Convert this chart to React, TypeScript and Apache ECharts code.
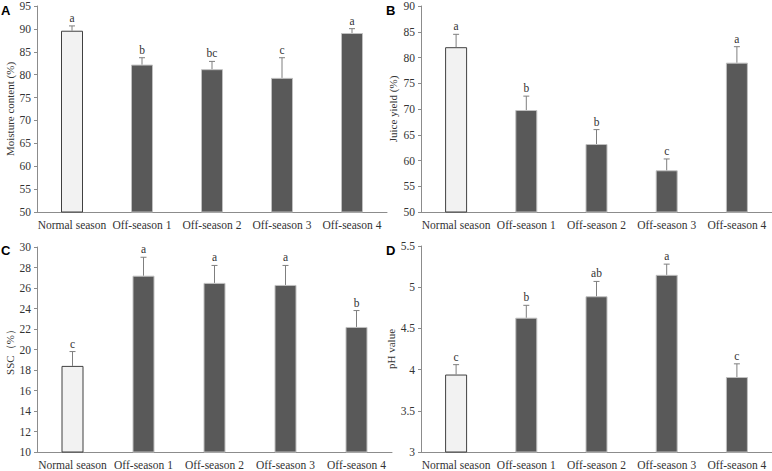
import * as echarts from "echarts";
import { useEffect, useRef } from "react";

const categories = ["Normal season", "Off-season 1", "Off-season 2", "Off-season 3", "Off-season 4"];

const moisture = [89.6, 82.2, 81.2, 79.3, 89.1];
const moistureErr = [1.05, 1.5, 1.7, 4.4, 0.95];
const moistureSig = ["a", "b", "bc", "c", "a"];

const juice = [82.0, 69.8, 63.2, 58.1, 79.0];
const juiceErr = [2.5, 2.7, 2.8, 2.2, 3.1];
const juiceSig = ["a", "b", "b", "c", "a"];

const ssc = [18.4, 27.2, 26.5, 26.3, 22.2];
const sscErr = [1.4, 1.8, 1.7, 1.9, 1.6];
const sscSig = ["c", "a", "a", "a", "b"];

const ph = [3.94, 4.63, 4.89, 5.15, 3.91];
const phErr = [0.12, 0.15, 0.18, 0.13, 0.16];
const phSig = ["c", "b", "ab", "a", "c"];

const FONT = "Liberation Serif";
const TEXT = "#333";
const AXIS = "#8c8c8c";

const panels = [
  { letter: "A", name: "Moisture content (%)", values: moisture, errs: moistureErr, sig: moistureSig, min: 50, max: 95, interval: 5, grid: { left: 37, top: 4, width: 350, height: 208 }, nameGap: 22 },
  { letter: "B", name: "Juice yield (%)", values: juice, errs: juiceErr, sig: juiceSig, min: 50, max: 90, interval: 5, grid: { left: 421, top: 3, width: 355, height: 209 }, nameGap: 23 },
  { letter: "C", name: "SSC（%）", values: ssc, errs: sscErr, sig: sscSig, min: 10, max: 30, interval: 2, grid: { left: 37, top: 247, width: 355, height: 208 }, nameGap: 22 },
  { letter: "D", name: "pH value", values: ph, errs: phErr, sig: phSig, min: 3, max: 5.5, interval: 0.5, grid: { left: 421, top: 246, width: 355, height: 209 }, nameGap: 25 },
];

const letterPos = [
  { x: 1, y: 11 },
  { x: 386, y: 11 },
  { x: 1, y: 251 },
  { x: 386, y: 251 },
];

export default function App() {
  const chartRef = useRef<HTMLDivElement>(null);

  useEffect(() => {
    if (!chartRef.current) return;
    const chart = echarts.init(chartRef.current, null, { renderer: "svg" });

    const series: any[] = [];
    panels.forEach((p, i) => {
      series.push({
        type: "bar",
        xAxisIndex: i,
        yAxisIndex: i,
        barWidth: 22,
        data: p.values.map((v, k) => ({
          value: v,
          itemStyle:
            k === 0
              ? { color: "#f2f2f2", borderColor: "#404040", borderWidth: 1 }
              : { color: "#595959", borderColor: "#c0c0c0", borderWidth: 1 },
        })),
      });
      // error bars (upper half) and significance letters
      series.push({
        type: "custom",
        xAxisIndex: i,
        yAxisIndex: i,
        clip: false,
        z: 5,
        data: p.values.map((v, k) => [k, v, v + p.errs[k]]),
        renderItem: (params: any, api: any) => {
          const base = api.coord([api.value(0), api.value(1)]);
          const top = api.coord([api.value(0), api.value(2)]);
          const style = { stroke: "#7f7f7f", lineWidth: 1 };
          return {
            type: "group",
            children: [
              { type: "line", shape: { x1: base[0], y1: base[1], x2: top[0], y2: top[1] }, style },
              { type: "line", shape: { x1: top[0] - 3, y1: top[1], x2: top[0] + 3, y2: top[1] }, style },
              {
                type: "text",
                x: top[0],
                y: top[1] - 2,
                style: {
                  text: p.sig[params.dataIndex],
                  fill: TEXT,
                  font: `11.5px ${FONT}`,
                  textAlign: "center",
                  textVerticalAlign: "bottom",
                },
              },
            ],
          };
        },
      });
    });

    const option: echarts.EChartsOption = {
      animation: false,
      backgroundColor: "#fff",
      grid: panels.map((p) => ({ ...p.grid, containLabel: false })),
      xAxis: panels.map((p, i) => ({
        type: "category",
        gridIndex: i,
        data: categories,
        axisLine: { lineStyle: { color: AXIS } },
        axisTick: { show: false },
        axisLabel: { color: TEXT, fontFamily: FONT, fontSize: 11.5, margin: 7, interval: 0 },
      })),
      yAxis: panels.map((p, i) => ({
        type: "value",
        gridIndex: i,
        min: p.min,
        max: p.max,
        interval: p.interval,
        name: p.name,
        nameLocation: "middle",
        nameGap: p.nameGap,
        nameTextStyle: { color: TEXT, fontFamily: FONT, fontSize: 11 },
        axisLine: { show: true, lineStyle: { color: AXIS } },
        axisTick: { show: true, length: 3, lineStyle: { color: AXIS } },
        splitLine: { show: false },
        axisLabel: { color: TEXT, fontFamily: FONT, fontSize: 11.5, margin: 6 },
      })),
      graphic: panels.map((p, i) => ({
        type: "text",
        left: letterPos[i].x,
        top: letterPos[i].y - 7,
        style: {
          text: p.letter,
          fill: "#000",
          font: "bold 13px Liberation Sans",
        },
      })),
      series,
    };

    chart.setOption(option);
    return () => chart.dispose();
  }, []);

  return (
    <div
      ref={chartRef}
      style={{ position: "fixed", left: 0, top: 0, width: "772px", height: "471px" }}
    />
  );
}
